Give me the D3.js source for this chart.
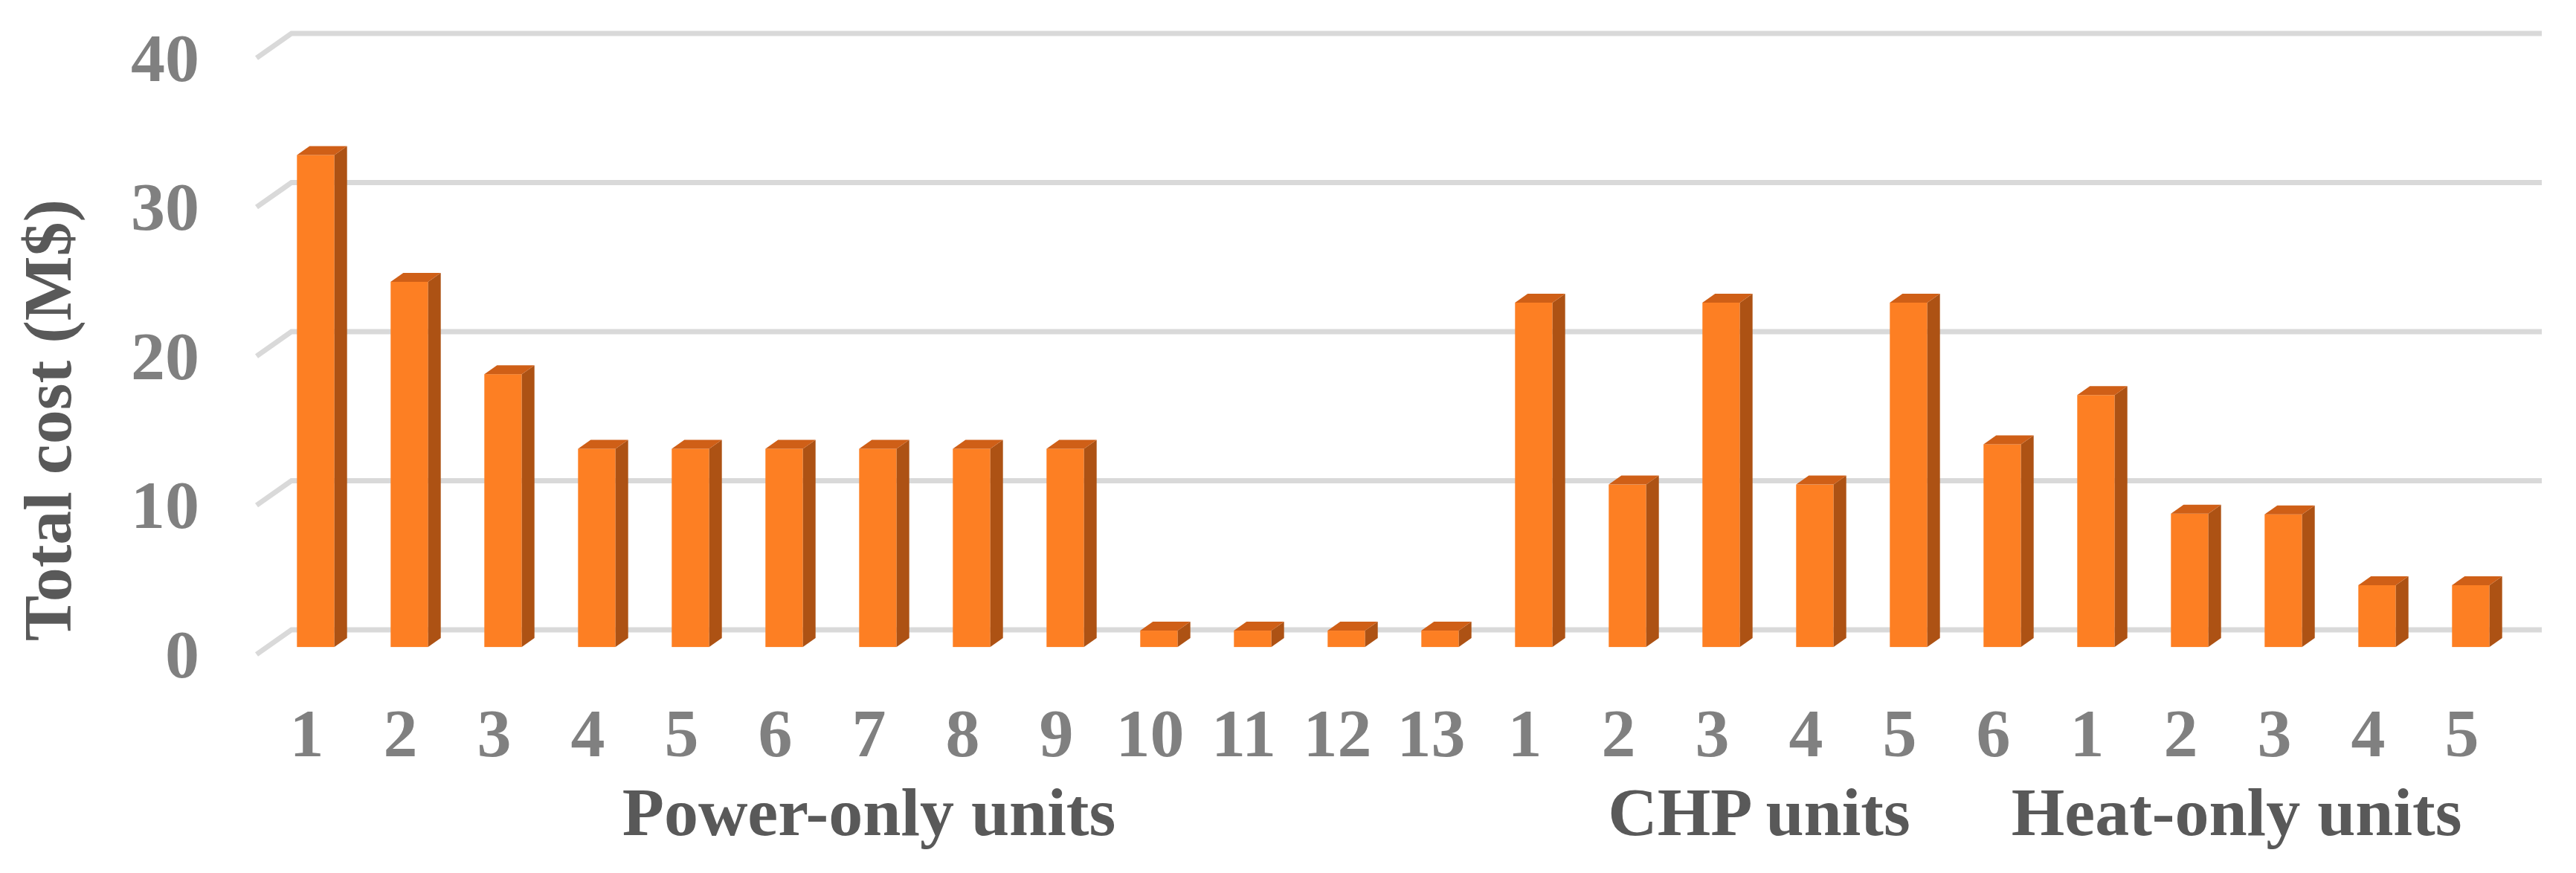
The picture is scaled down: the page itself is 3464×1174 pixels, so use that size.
<!DOCTYPE html>
<html lang="en">
	<head>
		<meta charset="UTF-8" />
		<title>Total cost per unit</title>
		<script src="https://d3js.org/d3.v7.min.js"></script>
		<style>
			body {
				margin: 0;
				background: #fff;
			}
			svg {
				display: block;
			}
			text {
				font-family: 'Liberation Serif', 'Times New Roman', serif;
				font-weight: bold;
			}
			.grid {
				stroke: #d9d9d9;
				stroke-width: 7px;
				fill: none;
			}
		</style>
	</head>
	<body>
		<svg></svg>
		<script>
			// values (M$)
			const powerOnly = [33.0, 24.5, 18.3, 13.3, 13.3, 13.3, 13.3, 13.3, 13.3, 1.1, 1.1, 1.1, 1.1];
			const chp = [23.1, 10.9, 23.1, 10.9, 23.1, 13.6];
			const heatOnly = [16.9, 8.95, 8.9, 4.15, 4.15];
			const groupNames = ['Power-only units', 'CHP units', 'Heat-only units'];
			const yTicks = [0, 10, 20, 30, 40];

			const groups = [powerOnly, chp, heatOnly];
			const data = [];
			groups.forEach((vals, g) => {
				vals.forEach((v, i) => data.push({ idx: data.length, label: String(i + 1), group: g, value: v }));
			});

			const width = 3464,
				height = 1174;
			const svg = d3.select('svg').attr('width', width).attr('height', height);

			// back wall scale and depth of the floor (back -> front)
			const y = d3.scaleLinear().domain([0, 40]).range([847, 45]);
			const depth = { dx: -47, dy: 33 };
			const frontFrac = 0.7;
			const barDepth = { dx: 17, dy: -12 };

			const x = d3
				.scaleBand()
				.domain(data.map((d) => d.idx))
				.range([361.5, 3385.5])
				.paddingInner(0.6)
				.paddingOuter(0.3);

			const yFront = (v) => y(v) + depth.dy * frontFrac;

			// gridlines on back wall with diagonal to front
			const gridLeft = 392,
				gridRight = 3418;
			svg.append('g')
				.selectAll('path')
				.data(yTicks)
				.enter()
				.append('path')
				.attr('class', 'grid')
				.attr('d', (d) => `M${gridLeft + depth.dx},${y(d) + depth.dy}L${gridLeft},${y(d)}L${gridRight},${y(d)}`);

			// y tick labels
			const yAxis = svg
				.append('g')
				.attr('transform', 'translate(268,0)')
				.call(
					d3
						.axisLeft(y.copy().range([y.range()[0] + depth.dy, y.range()[1] + depth.dy]))
						.tickValues(yTicks)
						.tickSize(0)
						.tickPadding(0)
				);
			yAxis.select('.domain').remove();
			yAxis.selectAll('text')
				.attr('fill', '#808080')
				.style('font-size', '92px')
				.attr('dy', '0.33em');

			// bars
			const bars = svg.append('g').selectAll('g').data(data).enter().append('g');
			const bw = x.bandwidth();

			bars.append('rect')
				.attr('x', (d) => x(d.idx))
				.attr('y', (d) => yFront(d.value))
				.attr('width', bw)
				.attr('height', (d) => yFront(0) - yFront(d.value))
				.attr('fill', '#fd7f23');

			bars.append('path')
				.attr('fill', '#ad5214')
				.attr('d', (d) => {
					const x0 = x(d.idx) + bw,
						t = yFront(d.value),
						b = yFront(0);
					return `M${x0},${t}L${x0 + barDepth.dx},${t + barDepth.dy}L${x0 + barDepth.dx},${b + barDepth.dy}L${x0},${b}Z`;
				});

			bars.append('path')
				.attr('fill', '#cf5f17')
				.attr('d', (d) => {
					const x0 = x(d.idx),
						t = yFront(d.value);
					return `M${x0},${t}L${x0 + barDepth.dx},${t + barDepth.dy}L${x0 + bw + barDepth.dx},${t + barDepth.dy}L${x0 + bw},${t}Z`;
				});

			// category labels
			const labelShift = -12;
			const xAxis = svg
				.append('g')
				.attr('transform', `translate(${labelShift},0)`)
				.call(
					d3
						.axisBottom(x)
						.tickFormat((i) => data[i].label)
						.tickSize(0)
				);
			xAxis.select('.domain').remove();
			xAxis.selectAll('text')
				.attr('fill', '#808080')
				.style('font-size', '92px')
				.attr('dy', null)
				.attr('y', 1017);

			// group labels
			const labelRight = x(data[data.length - 1].idx) + bw / 2 + labelShift;
			const gl = svg
				.append('g')
				.selectAll('text')
				.data(groupNames)
				.enter()
				.append('text')
				.attr('fill', '#595959')
				.style('font-size', '92px')
				.attr('text-anchor', 'middle')
				.attr('y', 1123)
				.text((d) => d)
				.attr('x', (d, g) => {
					const items = data.filter((e) => e.group === g);
					return d3.mean(items, (e) => x(e.idx) + bw / 2) + labelShift;
				});
			gl.attr('x', function () {
				const cx = +this.getAttribute('x');
				const w = this.getComputedTextLength();
				return Math.min(cx, labelRight - w / 2);
			});

			// y axis title
			svg.append('text')
				.attr('transform', 'translate(95,565) rotate(-90)')
				.attr('text-anchor', 'middle')
				.attr('fill', '#595959')
				.style('font-size', '92px')
				.text('Total cost (M$)');
		</script>
	</body>
</html>
